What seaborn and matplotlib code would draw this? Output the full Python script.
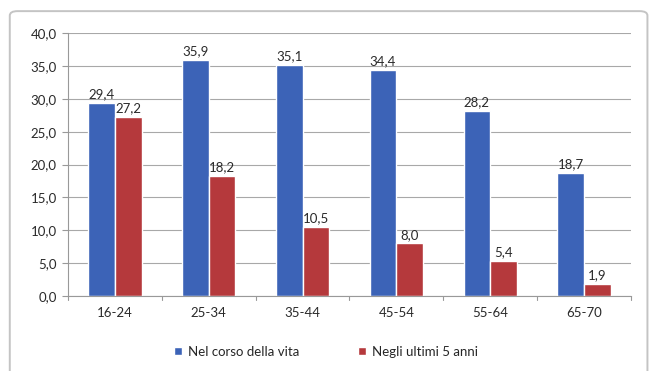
import matplotlib
matplotlib.use("Agg")
import matplotlib.pyplot as plt
from matplotlib.patches import FancyBboxPatch
import seaborn as sns
import pandas as pd

categories = ["16-24", "25-34", "35-44", "45-54", "55-64", "65-70"]
series_names = ["Nel corso della vita", "Negli ultimi 5 anni"]
vita = [29.4, 35.9, 35.1, 34.4, 28.2, 18.7]
ultimi5 = [27.2, 18.2, 10.5, 8.0, 5.4, 1.9]
yticks = [0, 5, 10, 15, 20, 25, 30, 35, 40]

colors = ["#3C63B7", "#B5393C"]

df = pd.DataFrame({
    "fascia": categories * 2,
    "serie": [series_names[0]] * len(categories) + [series_names[1]] * len(categories),
    "valore": vita + ultimi5,
})

sns.set_theme(style="white")
plt.rcParams["font.family"] = ["Lato", "DejaVu Sans"]

fig = plt.figure(figsize=(6.52, 3.71), dpi=100)
ax = fig.add_axes([0.104, 0.202, 0.864, 0.709])

sns.barplot(data=df, x="fascia", y="valore", hue="serie", palette=colors,
            width=0.57, gap=0, saturation=1, ax=ax, legend=True)

# value labels above bars
for cont in ax.containers:
    ax.bar_label(cont, labels=[f"{v:.1f}".replace(".", ",") for v in cont.datavalues],
                 padding=2, fontsize=9.5, color="#2A2A2A")

ax.set_ylim(0, 40)
ax.set_xlim(-0.5, len(categories) - 0.5)
ax.set_yticks(yticks)
ax.set_yticklabels([f"{t:.1f}".replace(".", ",") for t in yticks], fontsize=9.5, color="#2A2A2A")
ax.tick_params(axis="x", labelsize=9.5, colors="#2A2A2A", length=0, pad=8)
ax.tick_params(axis="y", length=4, width=0.8, color="#999999", direction="out", left=True, pad=4)
ax.set_xlabel("")
ax.set_ylabel("")
ax.yaxis.grid(True, color="#A8A8A8", linewidth=0.8)
ax.set_axisbelow(True)

for s in ["top", "right"]:
    ax.spines[s].set_visible(False)
ax.spines["left"].set_color("#999999")
ax.spines["bottom"].set_color("#999999")
ax.spines["left"].set_linewidth(0.8)
ax.spines["bottom"].set_linewidth(0.8)

# category separator ticks on the x axis
for b in range(len(categories) + 1):
    ax.plot([b - 0.5, b - 0.5], [0, -0.6], color="#999999", lw=0.8,
            clip_on=False, transform=ax.transData)

handles, labels = ax.get_legend_handles_labels()
ax.legend(handles, labels, loc="center", bbox_to_anchor=(0.5, 0.052),
          bbox_transform=fig.transFigure, ncol=2, frameon=False, fontsize=9.5,
          handlelength=0.6, handleheight=0.6, columnspacing=4.5, handletextpad=0.4)

# chart frame (open at the bottom edge of the image)
frame = FancyBboxPatch((0.015, -0.05), 0.978, 1.02, boxstyle="round,pad=0,rounding_size=0.012",
                       transform=fig.transFigure, facecolor="none", edgecolor="#C4C4C4",
                       linewidth=1.4)
fig.patches.append(frame)

fig.savefig("out.png", dpi=100)
